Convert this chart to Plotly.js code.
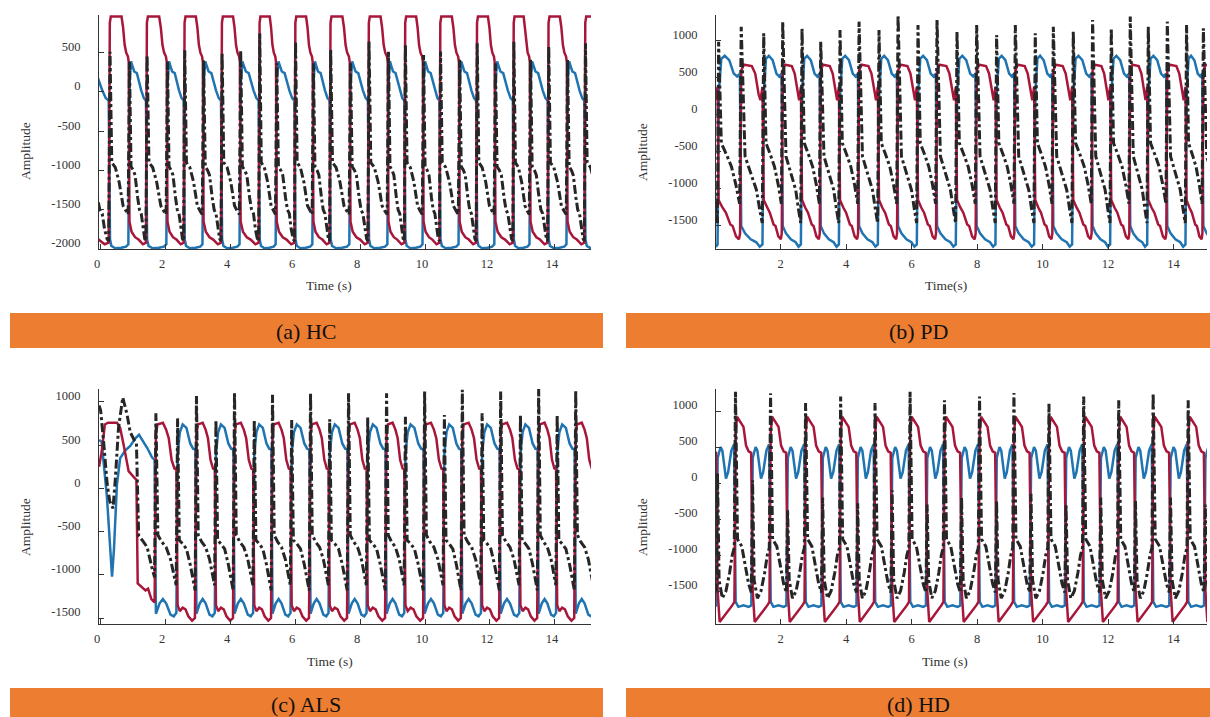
<!DOCTYPE html>
<html><head><meta charset="utf-8">
<script src="https://cdn.plot.ly/plotly-3.0.1.min.js"></script>
<style>html,body{margin:0;padding:0;background:#fff}#chart{width:1210px;height:717px}</style>
</head><body><div id="chart"></div>
<script>
// ===================== DATA =====================
// Shared axis ticks
const xTickVals = [0, 2, 4, 6, 8, 10, 12, 14];
const xTickText = ['0', '2', '4', '6', '8', '10', '12', '14'];
const yTickValsA = [-2000, -1500, -1000, -500, 0, 500];
const yTickTextA = ['-2000', '-1500', '-1000', '-500', '0', '500'];
const yTickValsB = [-1500, -1000, -500, 0, 500, 1000];
const yTickTextB = ['-1500', '-1000', '-500', '0', '500', '1000'];

const panelLabels = ['(a) HC', '(b) PD', '(c) ALS', '(d) HD'];
const xTitles = ['Time (s)', 'Time(s)', 'Time (s)', 'Time (s)'];
const yTitle = 'Amplitude';

// ---- (a) HC : event times (s) where the red trace rises / falls, black spike heights
const hcRiseT = [0.29, 1.43, 2.59, 3.74, 4.90, 6.00, 7.08, 8.26, 9.38, 10.46, 11.59, 12.72, 13.79, 14.92];
const hcFallT = [-0.45, 0.89, 2.06, 3.17, 4.31, 5.42, 6.55, 7.69, 8.86, 9.94, 11.05, 12.15, 13.23, 14.37, 15.5];
const hcRisePeak = [510, 470, 530, 495, 745, 640, 535, 640, 600, 515, 620, 640, 580, 620];
const hcFallPeak = [400, 385, 385, 400, 530, 365, 365, 365, 510, 470, 410, 365, 410, 410, 400];
// phase shapes: [fraction of phase, amplitude]; null = spike height of that event
const hcRedHigh = [[0.02, 880], [0.07, 960], [0.62, 960], [0.7, 820], [0.78, 600], [0.86, 500], [0.95, 450], [0.99, 380]];
const hcRedLow = [[0.03, -1650], [0.15, -1780], [0.35, -1850], [0.55, -1880], [0.8, -1940], [0.97, -1920]];
const hcBlueHigh = [[0.03, 100], [0.12, 390], [0.2, 330], [0.3, 260], [0.45, 240], [0.55, 150], [0.7, 20], [0.85, -80], [0.97, -110]];
const hcBlueLow = [[0.03, -1880], [0.1, -1960], [0.3, -1990], [0.6, -1985], [0.85, -1970], [0.97, -1940]];
const hcBlackRise = [[0.03, null], [0.12, -900], [0.3, -960], [0.5, -1150], [0.7, -1450], [0.85, -1520], [0.96, -1560]];
const hcBlackFall = [[0.03, null], [0.12, -950], [0.25, -1000], [0.35, -1060], [0.5, -1350], [0.6, -1500], [0.7, -1550], [0.8, -1750], [0.9, -1870], [0.97, -1900]];

// ---- (b) PD
const pdRiseT = [-0.3, 0.78, 2.05, 3.21, 4.38, 5.57, 6.76, 7.97, 9.15, 10.31, 11.51, 12.66, 13.79, 14.89];
const pdFallT = [0.09, 1.47, 2.64, 3.80, 4.99, 6.18, 7.37, 8.58, 9.76, 10.92, 12.08, 13.21, 14.38, 15.5];
const pdRisePeak = [1000, 1193, 1261, 990, 1261, 1350, 1284, 1216, 1216, 1193, 1284, 1329, 1261, 1171];
const pdFallPeak = [990, 1104, 1171, 1149, 1149, 1216, 1126, 1081, 1104, 1126, 1171, 1193, 1216, 1100];
const pdRedHigh = [[0.03, 600], [0.15, 680], [0.5, 660], [0.65, 560], [0.8, 280], [0.88, 200], [0.97, 380]];
const pdRedLow = [[0.03, -1150], [0.2, -1250], [0.35, -1320], [0.55, -1480], [0.65, -1500], [0.8, -1640], [0.93, -1680], [0.98, -1600]];
const pdBlueHigh = [[0.04, 300], [0.15, 760], [0.3, 800], [0.5, 740], [0.7, 560], [0.85, 520], [0.97, 560]];
const pdBlueLow = [[0.03, -1500], [0.2, -1600], [0.45, -1680], [0.7, -1720], [0.85, -1780], [0.97, -1750]];
const pdBlackRise = [[0.03, null], [0.2, -560], [0.5, -830], [0.7, -1010], [0.85, -1280], [0.96, -1460]];
const pdBlackFall = [[0.03, null], [0.15, -380], [0.4, -550], [0.6, -700], [0.8, -950], [0.96, -1200]];

// ---- (c) ALS (irregular start given point by point)
const alsRiseT = [1.70, 2.95, 4.12, 5.29, 6.46, 7.63, 8.80, 9.97, 11.13, 12.31, 13.48, 14.62];
const alsFallT = [1.14, 2.37, 3.55, 4.73, 5.88, 7.05, 8.22, 9.38, 10.58, 11.74, 12.92, 14.05, 15.2];
const alsRisePeak = [870, 1070, 1110, 1082, 1100, 1100, 1100, 1120, 1140, 1120, 1160, 1130];
const alsFallPeak = [0, 810, 790, 790, 790, 800, 820, 830, 850, 870, 850, 850, 850];
const alsRedStart = [[-0.03, 250], [0.05, 420], [0.15, 740], [0.25, 760], [0.52, 760], [0.62, 700], [0.73, 500], [0.88, 200], [1.04, 130], [1.12, 100], [1.16, -1100], [1.3, -1150], [1.4, -1180], [1.48, -1160], [1.58, -1280], [1.68, -1320]];
const alsBlueStart = [[-0.03, 560], [0.05, 540], [0.21, -80], [0.32, -650], [0.37, -1020], [0.43, -700], [0.52, 40], [0.62, 350], [0.78, 440], [0.93, 490], [1.09, 580], [1.2, 620], [1.3, 560], [1.45, 470], [1.6, 360], [1.68, 330]];
const alsBlackStart = [[-0.03, 960], [0.02, 900], [0.12, 500], [0.22, 50], [0.3, -150], [0.4, -230], [0.47, 100], [0.57, 700], [0.7, 1050], [0.83, 860], [0.93, 650], [1.05, 560], [1.12, 530], [1.16, -100], [1.19, -550], [1.3, -600], [1.45, -680], [1.6, -920], [1.68, -1030]];
const alsRedHigh = [[0.03, 620], [0.1, 740], [0.35, 760], [0.5, 680], [0.62, 580], [0.75, 330], [0.88, 230], [0.97, 220]];
const alsRedLow = [[0.03, -1350], [0.15, -1420], [0.3, -1380], [0.45, -1400], [0.6, -1480], [0.8, -1530], [0.95, -1500]];
const alsBlueHigh = [[0.03, 400], [0.15, 650], [0.3, 740], [0.5, 700], [0.7, 520], [0.85, 460], [0.97, 450]];
const alsBlueLow = [[0.03, -1450], [0.2, -1330], [0.35, -1280], [0.5, -1330], [0.7, -1460], [0.85, -1480], [0.97, -1440]];
const alsBlackRise = [[0.03, null], [0.12, -540], [0.3, -620], [0.5, -680], [0.7, -820], [0.85, -1000], [0.96, -1120]];
const alsBlackFall = [[0.03, null], [0.12, -600], [0.3, -640], [0.5, -700], [0.7, -880], [0.85, -1080], [0.96, -1180]];

// ---- (d) HD
const hdRiseT = [-0.45, 0.61, 1.68, 2.75, 3.82, 4.87, 5.94, 6.99, 8.06, 9.11, 10.18, 11.24, 12.31, 13.36, 14.43, 15.5];
const hdFallT = [0.06, 1.13, 2.20, 3.27, 4.34, 5.39, 6.46, 7.51, 8.58, 9.63, 10.70, 11.76, 12.82, 13.89, 14.95];
const hdRisePeak = [1200, 1268, 1245, 1110, 1200, 1110, 1268, 1150, 1200, 1250, 1100, 1200, 1150, 1250, 1150, 1200];
const hdFallPeak = [140, 40, -370, -200, -280, -100, -300, -200, -250, -150, -300, -200, -250, -200, -300];
const hdRedHigh = [[0.04, 700], [0.12, 920], [0.3, 850], [0.5, 780], [0.65, 520], [0.8, 440], [0.95, 420]];
const hdRedLow = [[0.04, -1500], [0.15, -1930], [0.5, -1820], [0.85, -1700], [0.97, -1650]];
const hdBlueHigh = [[0.04, 350], [0.2, 500], [0.3, 450], [0.5, 60], [0.62, 150], [0.8, 450], [0.95, 540]];
const hdBlueLow = [[0.04, -1650], [0.2, -1720], [0.5, -1700], [0.8, -1720], [0.96, -1700]];
const hdBlackRise = [[0.03, null], [0.15, -780], [0.4, -880], [0.6, -1150], [0.8, -1400], [0.96, -1520]];
const hdBlackFall = [[0.03, null], [0.12, -1350], [0.3, -1600], [0.5, -1500], [0.7, -1250], [0.85, -1000], [0.96, -900]];

// ===================== BUILD =====================
function makeEvents(riseT, fallT, risePeak, fallPeak) {
  const ev = [];
  riseT.forEach((t, i) => ev.push({t: t, kind: 'R', peak: risePeak[i]}));
  fallT.forEach((t, i) => ev.push({t: t, kind: 'F', peak: fallPeak[i]}));
  ev.sort((a, b) => a.t - b.t);
  return ev;
}
function buildLine(ev, afterRise, afterFall, start) {
  const xs = [], ys = [];
  let from = -Infinity;
  if (start) { start.forEach(p => { xs.push(p[0]); ys.push(p[1]); }); from = start[start.length - 1][0]; }
  for (let i = 0; i < ev.length - 1; i++) {
    const e = ev[i], n = ev[i + 1];
    if (e.t < from) continue;
    const tpl = e.kind === 'R' ? afterRise : afterFall;
    const d = n.t - e.t;
    tpl.forEach(p => { xs.push(e.t + p[0] * d); ys.push(p[1] === null ? e.peak : p[1]); });
  }
  return {x: xs, y: ys};
}

const BLUE = '#1F74B1', RED = '#A8173A', BLACK = '#262626';
const panels = [
  {ev: makeEvents(hcRiseT, hcFallT, hcRisePeak, hcFallPeak),
   red: [hcRedHigh, hcRedLow], blue: [hcBlueLow, hcBlueHigh], black: [hcBlackRise, hcBlackFall]},
  {ev: makeEvents(pdRiseT, pdFallT, pdRisePeak, pdFallPeak),
   red: [pdRedHigh, pdRedLow], blue: [pdBlueLow, pdBlueHigh], black: [pdBlackRise, pdBlackFall]},
  {ev: makeEvents(alsRiseT, alsFallT, alsRisePeak, alsFallPeak),
   red: [alsRedHigh, alsRedLow], blue: [alsBlueLow, alsBlueHigh], black: [alsBlackRise, alsBlackFall],
   start: {red: alsRedStart, blue: alsBlueStart, black: alsBlackStart}},
  {ev: makeEvents(hdRiseT, hdFallT, hdRisePeak, hdFallPeak),
   red: [hdRedHigh, hdRedLow], blue: [hdBlueLow, hdBlueHigh], black: [hdBlackRise, hdBlackFall]}
];

const traces = [];
panels.forEach((p, k) => {
  const xa = 'x' + (k ? k + 1 : ''), ya = 'y' + (k ? k + 1 : '');
  const st = p.start || {};
  const b = buildLine(p.ev, p.blue[0], p.blue[1], st.blue);
  const r = buildLine(p.ev, p.red[0], p.red[1], st.red);
  const k2 = buildLine(p.ev, p.black[0], p.black[1], st.black);
  traces.push({type: 'scatter', mode: 'lines', x: b.x, y: b.y, xaxis: xa, yaxis: ya, line: {color: BLUE, width: 2.5}, hoverinfo: 'skip'});
  traces.push({type: 'scatter', mode: 'lines', x: r.x, y: r.y, xaxis: xa, yaxis: ya, line: {color: RED, width: 2.5}, hoverinfo: 'skip'});
  traces.push({type: 'scatter', mode: 'lines', x: k2.x, y: k2.y, xaxis: xa, yaxis: ya, line: {color: BLACK, width: 3, dash: 'dashdot'}, hoverinfo: 'skip'});
});

// ===================== LAYOUT =====================
const W = 1210, H = 717;
const fx = v => v / W, fy = v => 1 - v / H;
const FONT = 'Liberation Serif';
const axCommon = {showgrid: false, zeroline: false, showline: true, linecolor: '#333', linewidth: 1,
  ticks: 'inside', ticklen: 5, tickwidth: 1, tickcolor: '#333', fixedrange: true,
  tickfont: {family: FONT, size: 12.5, color: '#333'}};
function xAxis(d0, d1, r0, r1, anchor, shift) {
  return Object.assign({}, axCommon, {domain: [fx(d0), fx(d1)], range: [r0, r1], anchor: anchor,
    tickmode: 'array', tickvals: xTickVals, ticktext: xTickText, ticklabelshift: shift, ticklabelstandoff: 3});
}
function yAxis(d0, d1, r0, r1, anchor, vals, text) {
  return Object.assign({}, axCommon, {domain: [fy(d0), fy(d1)], range: [r0, r1], anchor: anchor,
    tickmode: 'array', tickvals: vals, ticktext: text, ticklabelshift: -6, ticklabelstandoff: 15});
}

const layout = {
  width: W, height: H, margin: {l: 0, r: 0, t: 0, b: 0}, showlegend: false,
  paper_bgcolor: '#fff', plot_bgcolor: 'rgba(0,0,0,0)',
  xaxis: xAxis(99, 591, -0.031, 15.108, 'y', -3),
  yaxis: yAxis(249, 14.7, -2000, 983, 'x', yTickValsA, yTickTextA),
  xaxis2: xAxis(716, 1207, 0.031, 15.02, 'y2', 0),
  yaxis2: yAxis(249, 15, -1811, 1351, 'x2', yTickValsB, yTickTextB),
  xaxis3: xAxis(99, 591, -0.031, 15.108, 'y3', -3),
  yaxis3: yAxis(624, 389, -1569, 1150, 'x3', yTickValsB, yTickTextB),
  xaxis4: xAxis(716, 1207, 0.031, 15.02, 'y4', 0),
  yaxis4: yAxis(624, 389, -1958, 1306, 'x4', yTickValsB, yTickTextB),
  shapes: [
    [10, 603, 313, 348], [626, 1210, 313, 348], [10, 603, 688, 717], [626, 1210, 688, 717]
  ].map(b => ({type: 'rect', xref: 'paper', yref: 'paper', x0: fx(b[0]), x1: fx(b[1]), y0: fy(b[3]), y1: fy(b[2]),
    fillcolor: '#ED7D31', line: {width: 0}, layer: 'below'})),
  annotations: []
};
const ann = (text, x, y, size, color, angle) => ({text: text, xref: 'paper', yref: 'paper', x: fx(x), y: fy(y),
  xanchor: 'center', yanchor: 'middle', showarrow: false, textangle: angle || 0,
  font: {family: FONT, size: size, color: color}});
layout.annotations.push(
  ann(xTitles[0], 329, 285, 13.5, '#333'), ann(xTitles[1], 946, 285, 13.5, '#333'),
  ann(xTitles[2], 330, 661, 13.5, '#333'), ann(xTitles[3], 945, 661, 13.5, '#333'),
  ann(yTitle, 25, 151, 13.5, '#333', -90), ann(yTitle, 642, 152, 13.5, '#333', -90),
  ann(yTitle, 25, 527, 13.5, '#333', -90), ann(yTitle, 642, 527, 13.5, '#333', -90),
  ann(panelLabels[0], 306, 331, 22, '#111'), ann(panelLabels[1], 918, 331, 22, '#111'),
  ann(panelLabels[2], 306, 704, 22, '#111'), ann(panelLabels[3], 918, 704, 22, '#111')
);

Plotly.newPlot('chart', traces, layout, {staticPlot: true, displayModeBar: false});
</script>
</body></html>
